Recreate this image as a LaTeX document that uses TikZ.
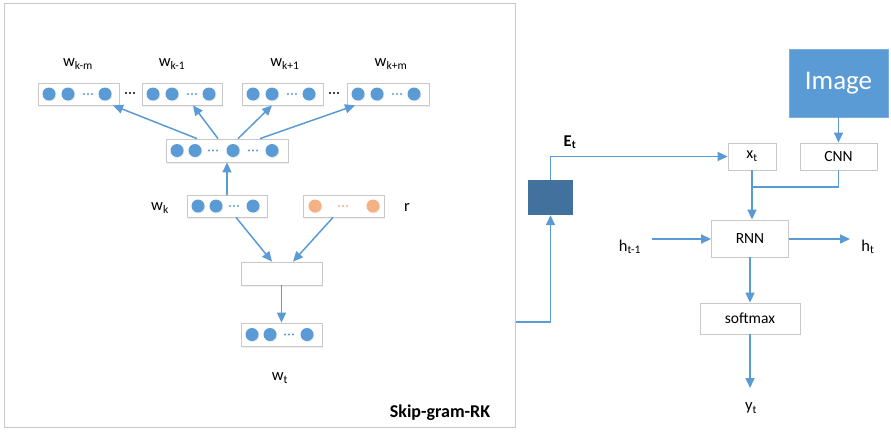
\documentclass[tikz,border=0pt]{standalone}
\usepackage{fontspec}
\setmainfont{Carlito}
\usetikzlibrary{arrows.meta,calc,shadows}

\definecolor{accent}{RGB}{91,155,213}
\definecolor{darkaccent}{RGB}{65,113,156}
\definecolor{peach}{RGB}{244,177,131}
\definecolor{boxgray}{RGB}{200,200,200}

\tikzset{
  vbox/.style={draw=boxgray, line width=0.8pt, fill=white, minimum height=22pt,
    inner sep=0pt, drop shadow={shadow xshift=1pt, shadow yshift=-1.5pt, opacity=0.12}},
  unit/.style={circle, fill=accent, minimum size=13pt, inner sep=0pt,
    drop shadow={shadow xshift=0.8pt, shadow yshift=-1pt, opacity=0.15}},
  runit/.style={unit, fill=peach},
  stagebox/.style={draw=boxgray, line width=0.8pt, fill=white, inner sep=0pt,
    font=\fontsize{15.5}{17}\selectfont},
  lbl/.style={font=\fontsize{16.5}{18}\selectfont, inner sep=0pt},
  arr/.style={draw=accent, line width=1.5pt, -{Triangle[length=10pt,width=9pt]}},
  conn/.style={draw=accent, line width=1.5pt},
}

% three small dots standing for the omitted units of a vector
\newcommand{\gapdots}[3]{%
  \foreach \dx in {-4,0,4} \fill[#3] (#1+\dx,#2) circle (1.1);}

\begin{document}
\begin{tikzpicture}[x=1pt,y=-1pt]
\useasboundingbox (0,0) rectangle (891,431);

% ---------- Skip-gram-RK panel ----------
\node[draw=boxgray, line width=0.8pt, minimum width=511pt, minimum height=424pt,
  inner sep=0pt, anchor=north west] (skipframe) at (4,3) {};
\node[font=\bfseries\fontsize{18}{20}\selectfont, inner sep=0pt] (sgrk) at (440,413) {Skip-gram-RK};

% context vectors
\node[vbox, minimum width=81pt] (ctx1) at (78.5,94) {};
\node[vbox, minimum width=80pt] (ctx2) at (182,94) {};
\node[vbox, minimum width=81pt] (ctx3) at (282.5,94) {};
\node[vbox, minimum width=82pt] (ctx4) at (388,94) {};
\foreach \b/\x in {1/38,2/142,3/242,4/347}{
  \node[unit] (u\b a) at (\x+11,94) {};
  \node[unit] (u\b b) at (\x+30,94) {};
  \node[unit] (u\b c) at (\x+67,94) {};
  \gapdots{\x+50}{94}{accent}
}
\gapdots{130}{93}{black}
\gapdots{334}{93}{black}

\node[lbl] (lkm) at (78,64) {w\textsubscript{k-m}};
\node[lbl] (lk1) at (172,64) {w\textsubscript{k-1}};
\node[lbl] (lkp1) at (285,64) {w\textsubscript{k+1}};
\node[lbl] (lkpm) at (391,64) {w\textsubscript{k+m}};

% hidden layer
\node[vbox, minimum width=122pt, minimum height=23pt] (hid) at (227,150.5) {};
\node[unit] (h1) at (177,150.5) {};
\node[unit] (h2) at (195,150.5) {};
\node[unit] (h3) at (233,150.5) {};
\node[unit] (h4) at (272,150.5) {};
\gapdots{213}{150.5}{accent}
\gapdots{253}{150.5}{accent}

% input word vector and relation vector
\node[vbox, minimum width=80pt] (wk) at (227,206) {};
\node[unit] (wk1) at (198,206) {};
\node[unit] (wk2) at (216,206) {};
\node[unit] (wk3) at (253,206) {};
\gapdots{234}{206}{accent}
\node[lbl] (lwk) at (160,208) {w\textsubscript{k}};

\node[vbox, minimum width=81pt] (rv) at (343.5,206) {};
\node[runit] (r1) at (315,206) {};
\node[runit] (r2) at (373,206) {};
\gapdots{343}{206}{peach}
\node[lbl] (lr) at (407,207) {r};

% combination and output vector
\node[vbox, minimum width=81pt, minimum height=23pt] (comb) at (281.5,273.5) {};
\node[vbox, minimum width=81pt, minimum height=23pt] (wt) at (281.5,334.5) {};
\node[unit] (wt1) at (252,334.5) {};
\node[unit] (wt2) at (270,334.5) {};
\node[unit] (wt3) at (307,334.5) {};
\gapdots{289}{334.5}{accent}
\node[lbl] (lwt) at (280,378) {w\textsubscript{t}};

% skip-gram connections
\draw[arr] (wk.north) -- (hid.south);
\draw[arr] ([xshift=-30pt]hid.north) -- ([xshift=34.5pt]ctx1.south);
\draw[arr] ([xshift=-9pt]hid.north) -- ([xshift=11pt]ctx2.south);
\draw[arr] ([xshift=11pt]hid.north) -- ([xshift=-10.5pt]ctx3.south);
\draw[arr] ([xshift=33pt]hid.north) -- ([xshift=-33pt]ctx4.south);
\draw[arr] ([xshift=9pt]wk.south) -- ([xshift=-9.5pt]comb.north);
\draw[arr] ([xshift=-10.5pt]rv.south) -- ([xshift=11.5pt]comb.north);
\draw[arr] (comb.south) -- (wt.north);

% ---------- captioning model ----------
\node[fill=darkaccent, minimum width=45pt, minimum height=35pt, inner sep=0pt] (Et) at (550.5,197.5) {};
\node[font=\bfseries\fontsize{16.5}{18}\selectfont, inner sep=0pt] (lEt) at (570,142) {E\textsubscript{t}};

\node[fill=accent, draw=accent!80!white, minimum width=99pt, minimum height=68pt, inner sep=0pt,
  text=white, font=\fontsize{27}{30}\selectfont] (img) at (838.5,83) {Image};
\node[stagebox, minimum width=48pt, minimum height=27pt] (xt) at (752,156.5)
  {\fontsize{16}{17}\selectfont x\textsubscript{t}};
\node[stagebox, minimum width=77pt, minimum height=27pt] (cnn) at (838.5,156.5) {CNN};
\node[stagebox, minimum width=77pt, minimum height=37pt] (rnn) at (750,238.5) {RNN};
\node[stagebox, minimum width=100pt, minimum height=31pt] (smax) at (750,318.5) {softmax};

\node[lbl] (lhprev) at (630,247) {h\textsubscript{t-1}};
\node[lbl] (lht) at (868,247) {h\textsubscript{t}};
\node[lbl] (lyt) at (751,408) {y\textsubscript{t}};

\coordinate (merge) at (xt.south |- 0,187);
\coordinate (hin) at (652,239);
\coordinate (hout) at (850,239);
\coordinate (yout) at (750,388);

\draw[arr] (skipframe.east |- 0,322) -| (Et.south);
\draw[arr] (Et.north) |- (xt.west);
\draw[arr] (img.south) -- (cnn.north);
\draw[conn] (cnn.south) |- (merge);
\draw[arr] (xt.south) -- (xt.south |- rnn.north);
\draw[arr] (hin) -- (hin -| rnn.west);
\draw[arr] (hout -| rnn.east) -- (hout);
\draw[arr] (rnn.south) -- (smax.north);
\draw[arr] (smax.south) -- (yout);
\end{tikzpicture}
\end{document}
